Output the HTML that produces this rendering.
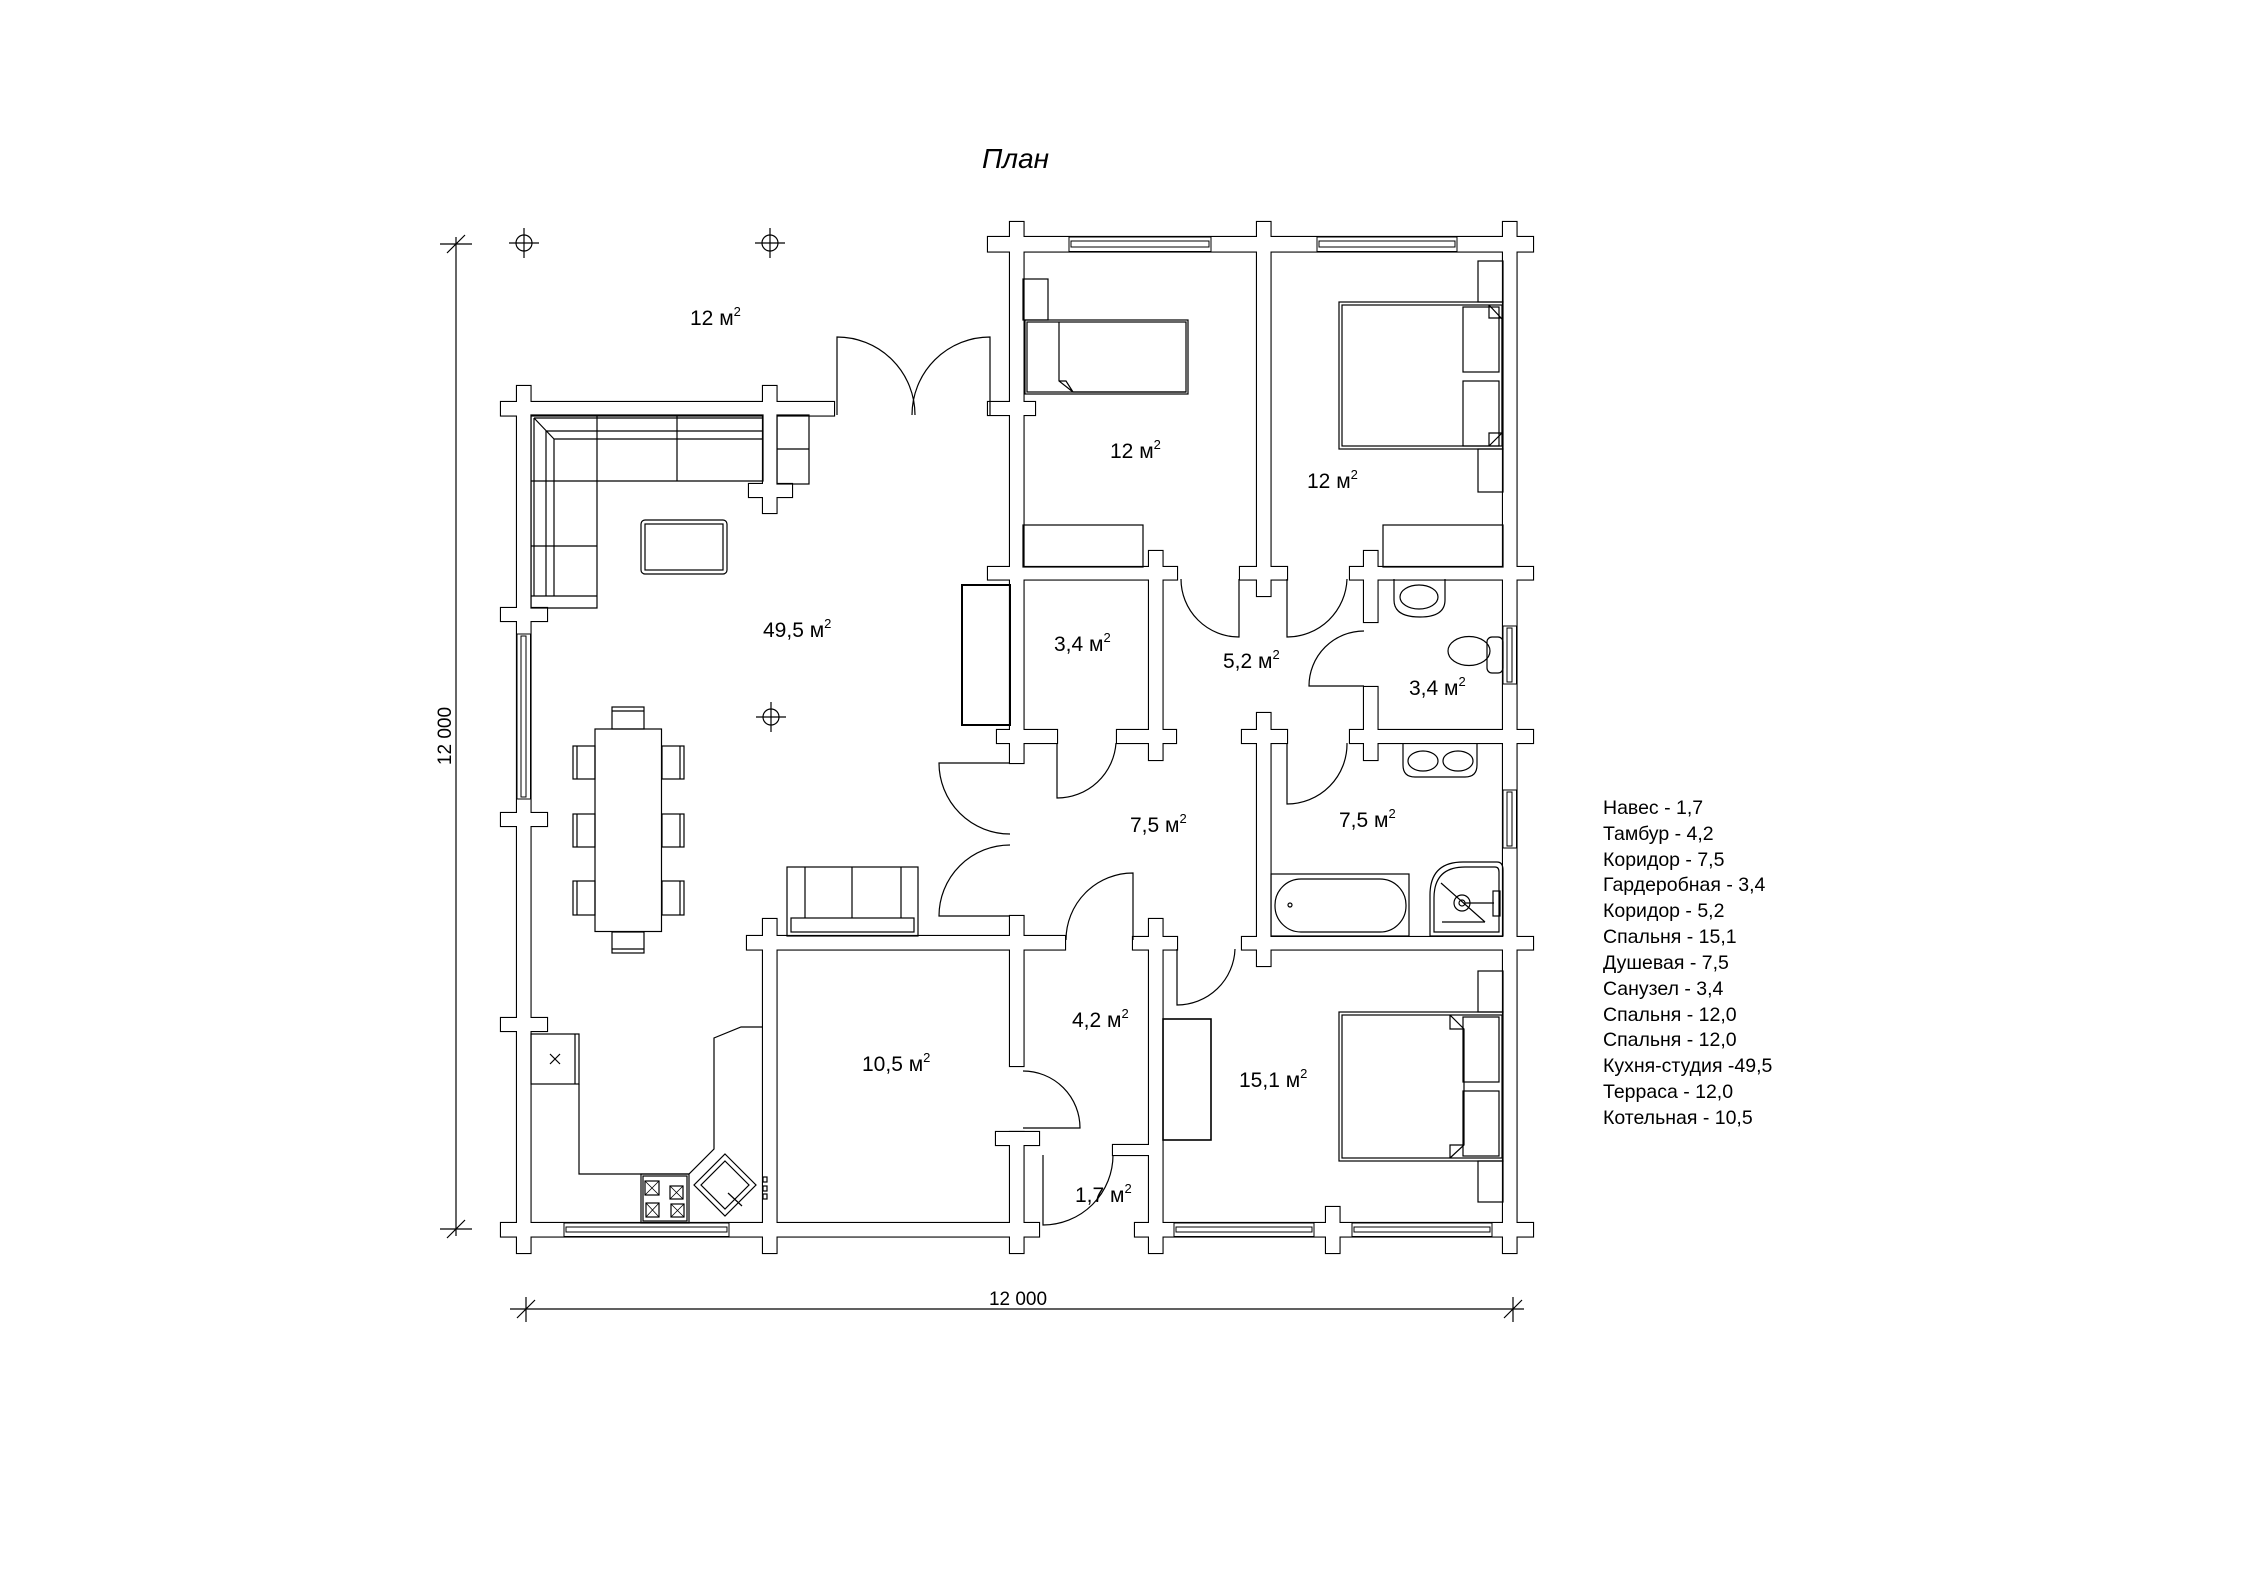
<!DOCTYPE html>
<html><head><meta charset="utf-8"><style>html,body{margin:0;padding:0;background:#fff}svg{display:block}</style></head>
<body>
<svg xmlns="http://www.w3.org/2000/svg" xmlns:xlink="http://www.w3.org/1999/xlink" width="2245" height="1587" viewBox="0 0 2245 1587">
<rect width="2245" height="1587" fill="#fff"/>
<defs>
<g id="walls">
<rect x="501" y="402" width="333" height="13.5"/>
<rect x="517" y="386" width="13.5" height="867"/>
<rect x="501" y="608" width="46" height="13"/>
<rect x="501" y="813" width="46" height="13"/>
<rect x="501" y="1018" width="46" height="13"/>
<rect x="763" y="386" width="13.5" height="127"/>
<rect x="749" y="484" width="43" height="13"/>
<rect x="501" y="1223" width="538" height="13.5"/>
<rect x="763" y="919" width="13.5" height="334"/>
<rect x="1010" y="1132" width="13.5" height="121"/>
<rect x="996" y="1132" width="43" height="13"/>
<rect x="747" y="936" width="318" height="13.5"/>
<rect x="1010" y="916" width="13.5" height="150"/>
<rect x="1010" y="222" width="13.5" height="541"/>
<rect x="997" y="730" width="60" height="13"/>
<rect x="1149" y="919" width="13.5" height="334"/>
<rect x="1133" y="937" width="44" height="12.5"/>
<rect x="1113" y="1145" width="36" height="10"/>
<rect x="1135" y="1223" width="398" height="13.5"/>
<rect x="1326" y="1207" width="13.5" height="46"/>
<rect x="1503" y="222" width="13.5" height="1031"/>
<rect x="1242" y="937" width="291" height="12.5"/>
<rect x="1257" y="713" width="13.5" height="253"/>
<rect x="1242" y="730" width="45" height="13"/>
<rect x="1350" y="730" width="183" height="13"/>
<rect x="1364" y="687" width="13.5" height="73"/>
<rect x="988" y="237" width="545" height="14.5"/>
<rect x="1257" y="222" width="13.5" height="374"/>
<rect x="988" y="402" width="47" height="13"/>
<rect x="988" y="567" width="189" height="12.5"/>
<rect x="1240" y="567" width="47" height="12.5"/>
<rect x="1350" y="567" width="183" height="12.5"/>
<rect x="1149" y="551" width="13.5" height="209"/>
<rect x="1117" y="730" width="59" height="13"/>
<rect x="1364" y="551" width="13.5" height="71"/>
</g>
</defs>
<use xlink:href="#walls" fill="#fff" stroke="#000" stroke-width="2.2"/>
<use xlink:href="#walls" fill="#fff" stroke="none"/>

<g fill="#fff" stroke="#000" stroke-width="1">
<rect x="1069" y="237" width="142" height="14.5"/><rect x="1071" y="241" width="138" height="6"/>
<rect x="1317" y="237" width="140" height="14.5"/><rect x="1319" y="241" width="136" height="6"/>
<rect x="564" y="1223" width="165" height="13.5"/><rect x="566" y="1227" width="161" height="5"/>
<rect x="1174" y="1223" width="140" height="13.5"/><rect x="1176" y="1227" width="136" height="5"/>
<rect x="1352" y="1223" width="140" height="13.5"/><rect x="1354" y="1227" width="136" height="5"/>
<rect x="517" y="634" width="13.5" height="165"/><rect x="521" y="636" width="5" height="161"/>
<rect x="1503" y="626" width="13.5" height="58"/><rect x="1507" y="628" width="5" height="54"/>
<rect x="1503" y="790" width="13.5" height="58"/><rect x="1507" y="792" width="5" height="54"/>
</g>

<g fill="none" stroke="#000" stroke-width="1.2">
<path d="M837,415 V337 A78,78 0 0 1 915,415"/>
<path d="M990,415 V337 A78,78 0 0 0 912,415"/>
<path d="M1010,763 H939 A71,71 0 0 0 1010,834"/>
<path d="M1010,916 H939 A71,71 0 0 1 1010,845"/>
<path d="M1057,743 V798 A59,59 0 0 0 1116,743"/>
<path d="M1239,579 V637 A58,58 0 0 1 1181,579"/>
<path d="M1287,579 V637 A60,60 0 0 0 1347,579"/>
<path d="M1364,686 H1309 A55,55 0 0 1 1364,631"/>
<path d="M1287,743 V804 A60,60 0 0 0 1347,743"/>
<path d="M1133,940 V873 A67,67 0 0 0 1066,940"/>
<path d="M1177,949 V1005 A58,58 0 0 0 1235,949"/>
<path d="M1023,1128 H1080 A57,57 0 0 0 1023,1071"/>
<path d="M1043,1155 V1225 A70,70 0 0 0 1113,1155"/>
</g>

<g fill="none" stroke="#000" stroke-width="1.2">
<path d="M531,415 H763 V481 H597 V608 H531 Z"/>
<path d="M534,418 H763 M546,431 H763 M554,439 H763 M534,418 L554,439 M534,418 V596 M546,431 V596 M554,439 V596 M531,596 H597 M597,415 V481 M677,415 V481 M531,481 H597 M531,546 H597"/>
<rect x="777" y="415" width="32" height="69"/><path d="M777,449 H809"/>
<rect x="641" y="520" width="86" height="54" rx="4"/><rect x="645" y="524" width="78" height="46"/>
<rect x="595" y="729" width="66.5" height="202.5"/>
<rect x="573" y="746" width="22" height="33"/><rect x="573" y="814" width="22" height="33"/><rect x="573" y="881" width="22" height="34"/>
<rect x="662" y="746" width="22" height="33"/><rect x="662" y="814" width="22" height="33"/><rect x="662" y="881" width="22" height="34"/>
<path d="M577,746 V779 M577,814 V847 M577,881 V915 M680,746 V779 M680,814 V847 M680,881 V915"/>
<rect x="612" y="707" width="32" height="22"/><path d="M612,711 H644"/>
<rect x="612" y="932" width="32" height="21"/><path d="M612,949 H644"/>
<rect x="962" y="585" width="48" height="140" stroke-width="2"/>
<rect x="787" y="867" width="131" height="69"/><rect x="791" y="918" width="123" height="14"/>
<path d="M805,867 V918 M852,867 V918 M901,867 V918"/>
<rect x="531" y="1034" width="48" height="50"/><path d="M575,1034 V1084"/>
<path d="M550,1054 L560,1064 M560,1054 L550,1064"/>
<path d="M579,1084 V1174 H689 L714,1149 V1038 L741,1027 H763"/>
<rect x="641" y="1174" width="48" height="49"/><rect x="643" y="1176" width="44" height="45"/>
<rect x="645" y="1181" width="14" height="14"/><rect x="670" y="1186" width="13" height="13"/>
<rect x="646" y="1203" width="13" height="14"/><rect x="671" y="1204" width="13" height="13"/>
<path d="M645,1181 L659,1195 M659,1181 L645,1195 M670,1186 L683,1199 M683,1186 L670,1199 M646,1203 L659,1217 M659,1203 L646,1217 M671,1204 L684,1217 M684,1204 L671,1217" stroke-width="0.8"/>
<polygon points="725,1154 756,1185 725,1216 694,1185"/>
<polygon points="725,1161 749,1185 725,1209 701,1185"/>
<path d="M728,1193 L742,1206"/>
<rect x="763" y="1177" width="4" height="5"/><rect x="763" y="1186" width="4" height="5"/><rect x="763" y="1194" width="4" height="5"/>
<rect x="1023" y="279" width="25" height="41"/>
<rect x="1025" y="320" width="163" height="74"/><rect x="1027" y="322" width="159" height="70"/>
<path d="M1059,322 V381 L1073,392 H1186 M1059,381 H1066 L1073,392"/>
<rect x="1023" y="525" width="120" height="42"/>
<rect x="1339" y="302" width="164" height="147"/><rect x="1342" y="305" width="160" height="141"/>
<path d="M1489,305 L1502,319 V433 L1489,446 M1489,305 V318 H1502 M1489,446 V433 H1502"/>
<rect x="1463" y="307" width="36" height="65"/><rect x="1463" y="381" width="36" height="65"/>
<rect x="1478" y="261" width="25" height="41"/><rect x="1478" y="449" width="25" height="43"/>
<rect x="1383" y="525" width="120" height="42"/>
<rect x="1339" y="1012" width="164" height="149"/><rect x="1342" y="1015" width="160" height="143"/>
<path d="M1450,1015 L1464,1029 V1145 L1450,1158 M1450,1015 V1029 H1464 M1450,1158 V1145 H1464"/>
<rect x="1463" y="1017" width="36" height="65"/><rect x="1463" y="1091" width="36" height="65"/>
<rect x="1478" y="971" width="25" height="41"/><rect x="1478" y="1161" width="25" height="41"/>
<rect x="1163" y="1019" width="48" height="121" stroke-width="1.6"/>
<path d="M1394,579 V600 Q1394,617 1420,617 Q1445,617 1445,600 V579"/>
<ellipse cx="1419" cy="597" rx="19" ry="12"/>
<ellipse cx="1469" cy="651" rx="21" ry="14.5"/>
<rect x="1487" y="637" width="16" height="36" rx="5"/>
<path d="M1403,743 V765 Q1403,777 1415,777 H1465 Q1477,777 1477,765 V743"/>
<ellipse cx="1423" cy="761" rx="15" ry="10"/><ellipse cx="1458" cy="761" rx="15" ry="10"/>
<rect x="1271" y="874" width="138" height="62"/><rect x="1275" y="879" width="131" height="53" rx="26"/>
<circle cx="1290" cy="905" r="2"/>
<path d="M1430,936 V895 Q1430,862 1463,862 H1497 Q1503,862 1503,870 V936 Z"/>
<path d="M1434,932 V898 Q1434,867 1465,867 H1495 Q1499,867 1499,872 V932 Z"/>
<circle cx="1462" cy="903" r="8"/><circle cx="1462" cy="903" r="3"/>
<path d="M1465,903 H1494 M1441,883 L1485,922 M1442,922 H1485"/>
<rect x="1493" y="891" width="7" height="25"/>
</g>

<g fill="none" stroke="#000" stroke-width="1.2">
<circle cx="524" cy="243" r="8"/><path d="M509,243 H539 M524,228 V258"/>
<circle cx="770" cy="243" r="8"/><path d="M755,243 H785 M770,228 V258"/>
<circle cx="771" cy="717" r="8"/><path d="M756,717 H786 M771,702 V732"/>
</g>

<g stroke="#000" stroke-width="1.2" fill="none">
<path d="M456,237 V1236"/>
<path d="M440,244 H472 M447,253 L465,235"/>
<path d="M440,1229 H472 M447,1238 L465,1220"/>
<path d="M510,1309 H1524"/>
<path d="M526,1297 V1322 M517,1318 L535,1300"/>
<path d="M1513,1297 V1322 M1504,1318 L1522,1300"/>
</g>

<g font-family="Liberation Sans, Arial, sans-serif" fill="#000">
<text x="982" y="168" font-size="28" font-style="italic">План</text>
<text x="1018" y="1305" font-size="19" text-anchor="middle">12 000</text>
<text transform="translate(451,736) rotate(-90)" font-size="19" text-anchor="middle">12 000</text>
<g font-size="21">
<text x="690" y="325">12 м<tspan font-size="13" dy="-9">2</tspan></text>
<text x="763" y="637">49,5 м<tspan font-size="13" dy="-9">2</tspan></text>
<text x="1110" y="458">12 м<tspan font-size="13" dy="-9">2</tspan></text>
<text x="1307" y="488">12 м<tspan font-size="13" dy="-9">2</tspan></text>
<text x="1054" y="651">3,4 м<tspan font-size="13" dy="-9">2</tspan></text>
<text x="1223" y="668">5,2 м<tspan font-size="13" dy="-9">2</tspan></text>
<text x="1409" y="695">3,4 м<tspan font-size="13" dy="-9">2</tspan></text>
<text x="1130" y="832">7,5 м<tspan font-size="13" dy="-9">2</tspan></text>
<text x="1339" y="827">7,5 м<tspan font-size="13" dy="-9">2</tspan></text>
<text x="1072" y="1027">4,2 м<tspan font-size="13" dy="-9">2</tspan></text>
<text x="862" y="1071">10,5 м<tspan font-size="13" dy="-9">2</tspan></text>
<text x="1239" y="1087">15,1 м<tspan font-size="13" dy="-9">2</tspan></text>
<text x="1075" y="1202">1,7 м<tspan font-size="13" dy="-9">2</tspan></text>
</g>
<g font-size="19.5">
<text x="1603" y="814">Навес - 1,7</text>
<text x="1603" y="840">Тамбур - 4,2</text>
<text x="1603" y="866">Коридор - 7,5</text>
<text x="1603" y="891">Гардеробная - 3,4</text>
<text x="1603" y="917">Коридор - 5,2</text>
<text x="1603" y="943">Спальня - 15,1</text>
<text x="1603" y="969">Душевая - 7,5</text>
<text x="1603" y="995">Санузел - 3,4</text>
<text x="1603" y="1021">Спальня - 12,0</text>
<text x="1603" y="1046">Спальня - 12,0</text>
<text x="1603" y="1072">Кухня-студия  -49,5</text>
<text x="1603" y="1098">Терраса - 12,0</text>
<text x="1603" y="1124">Котельная - 10,5</text>
</g>
</g>
</svg>
</body></html>
